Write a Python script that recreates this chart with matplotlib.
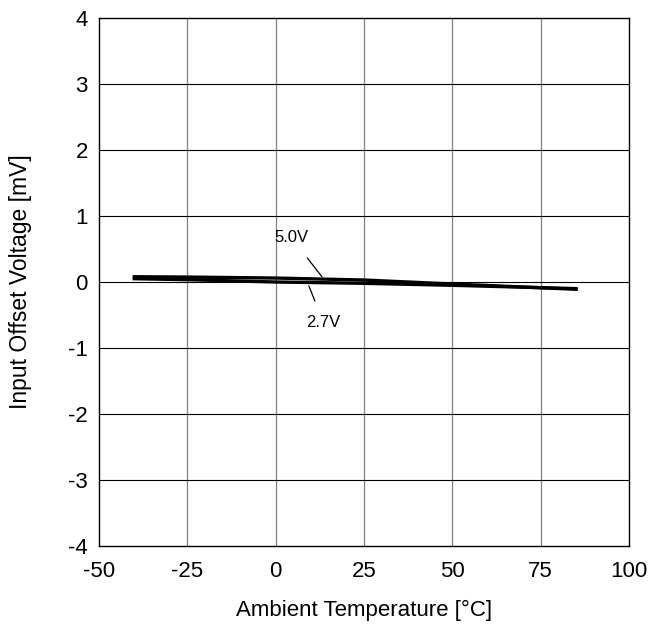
import numpy as np
import matplotlib
matplotlib.use('Agg')
import matplotlib.pyplot as plt

plt.rcParams['font.family'] = ['Liberation Sans', 'DejaVu Sans']
plt.rcParams['axes.unicode_minus'] = False

# datos
temp = [-40, -25, 0, 25, 50, 85]
vos_5v0 = [0.08, 0.075, 0.06, 0.03, -0.03, -0.11]
vos_2v7 = [0.05, 0.035, 0.0, -0.02, -0.05, -0.10]

fig = plt.figure(figsize=(6.53, 6.34), dpi=100)
ax = fig.add_axes([0.1516, 0.1388, 0.8116, 0.8328])

ax.set_xlim(-50, 100)
ax.set_ylim(-4, 4)
ax.set_xticks(np.arange(-50, 101, 25))
ax.set_yticks(np.arange(-4, 5, 1))

for x in [-25, 0, 25, 50, 75]:
    ax.axvline(x, color='#808080', lw=0.9, zorder=1)
for y in [-3, -2, -1, 0, 1, 2, 3]:
    ax.axhline(y, color='black', lw=0.8, zorder=1)

ax.plot(temp, vos_5v0, color='black', lw=2.4, zorder=3)
ax.plot(temp, vos_2v7, color='black', lw=2.4, zorder=3)

ax.annotate('5.0V', xy=(13.1, 0.08), xytext=(4.5, 0.67), fontsize=12,
            ha='center', va='center',
            arrowprops=dict(arrowstyle='-', color='black', lw=0.9, shrinkA=9, shrinkB=0))
ax.annotate('2.7V', xy=(9.4, -0.06), xytext=(13.6, -0.62), fontsize=12,
            ha='center', va='center',
            arrowprops=dict(arrowstyle='-', color='black', lw=0.9, shrinkA=9, shrinkB=0))

ax.tick_params(length=0, labelsize=16)
ax.tick_params(axis='x', pad=11)
ax.tick_params(axis='y', pad=8)
for s in ax.spines.values():
    s.set_linewidth(1.0)

ax.set_xlabel('Ambient Temperature [°C]', fontsize=16, labelpad=13)
ax.set_ylabel('Input Offset Voltage [mV]', fontsize=16.5, labelpad=26)

fig.savefig('out.png', dpi=100)
